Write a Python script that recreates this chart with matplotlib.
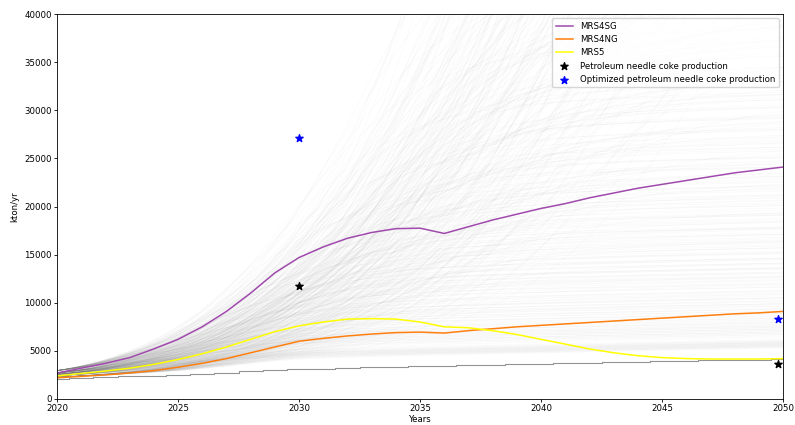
import numpy as np
import matplotlib
matplotlib.use("Agg")
import matplotlib.pyplot as plt

years = np.arange(2020, 2051)

# scenario trajectories, kton/yr
mrs4sg = [2700, 3200, 3700, 4300, 5200, 6200, 7500, 9100, 11000, 13100,
          14700, 15800, 16700, 17300, 17700, 17750, 17200, 17900, 18600, 19200,
          19800, 20300, 20900, 21400, 21900, 22300, 22700, 23100, 23500, 23800, 24100]
mrs4ng = [2200, 2350, 2500, 2700, 2950, 3300, 3700, 4200, 4800, 5400,
          6000, 6300, 6550, 6750, 6900, 6950, 6850, 7100, 7300, 7500,
          7650, 7800, 7950, 8100, 8250, 8400, 8550, 8700, 8850, 8950, 9100]
mrs5 = [2400, 2650, 2900, 3200, 3600, 4100, 4700, 5400, 6200, 7000,
        7600, 8000, 8300, 8350, 8300, 8000, 7500, 7400, 7100, 6700,
        6200, 5700, 5200, 4800, 4500, 4300, 4200, 4150, 4150, 4150, 4200]

# baseline (lowest run)
baseline = [2100, 2180, 2260, 2340, 2420, 2500, 2620, 2740, 2860, 2980,
            3100, 3160, 3220, 3280, 3340, 3400, 3450, 3500, 3550, 3600,
            3650, 3700, 3750, 3800, 3850, 3900, 3950, 4000, 4050, 4100, 4150]

# simulation runs: extra capacity on top of baseline, logistic growth
run_sat = [1500, 3000, 5000, 7500, 10000, 13000, 16000, 20000, 24000,
           29000, 35000, 42000, 52000, 65000, 85000, 110000, 130000]
run_rate = [0.44, 0.43, 0.42, 0.41, 0.40, 0.38, 0.37, 0.35, 0.34,
            0.32, 0.31, 0.30, 0.28, 0.27, 0.26, 0.25, 0.24]
run_start = [150, 300, 450, 600, 850]
start_scale = [0.85, 1.15, 0.95, 1.05, 1.25]
run_drate = [-0.03, -0.015, 0.0, 0.015, 0.03]
drate_scale = [0.9, 1.05, 1.0, 0.95, 1.1]

# needle coke production points
prod_x = [2030, 2049.8]
prod_y = [11700, 3600]
opt_x = [2030, 2049.8]
opt_y = [27100, 8300]

plt.rcParams['font.size'] = 6.2
fig = plt.figure(figsize=(7.95, 4.25), dpi=100)
ax = fig.add_axes([0.0717, 0.0612, 0.9133, 0.9058])

t = np.linspace(2020, 2050, 151)
base_t = np.interp(t, years, baseline)
for K, r in zip(run_sat, run_rate):
    for x0, ks in zip(run_start, start_scale):
        for dr, kd in zip(run_drate, drate_scale):
            k_run = K * ks * kd
            g = np.exp((r + dr) * (t - 2020))
            extra = k_run * x0 * g / (k_run + x0 * (g - 1))
            ax.plot(t, base_t + extra, color='grey', alpha=0.045, lw=0.5)
ax.plot(years, baseline, color='grey', alpha=0.85, lw=0.8, drawstyle='steps-mid')

ax.plot(years, mrs4sg, color='#a04aad', lw=1.1, label='MRS4SG')
ax.plot(years, mrs4ng, color='#ff7f0e', lw=1.1, label='MRS4NG')
ax.plot(years, mrs5, color='#ffff00', lw=1.1, label='MRS5')
ax.scatter(prod_x, prod_y, marker='*', color='black', s=30, zorder=5,
           label='Petroleum needle coke production')
ax.scatter(opt_x, opt_y, marker='*', color='blue', s=30, zorder=5,
           label='Optimized petroleum needle coke production')

ax.set_xlim(2020, 2050)
ax.set_ylim(0, 40000)
ax.set_xlabel('Years', labelpad=1)
ax.set_ylabel('kton/yr')
for s in ax.spines.values():
    s.set_linewidth(0.6)
ax.tick_params(width=0.6, length=2.2, pad=1.5)
ax.legend(loc='upper right', fontsize=6.2, framealpha=0.8)

fig.savefig('out.png', dpi=100)
